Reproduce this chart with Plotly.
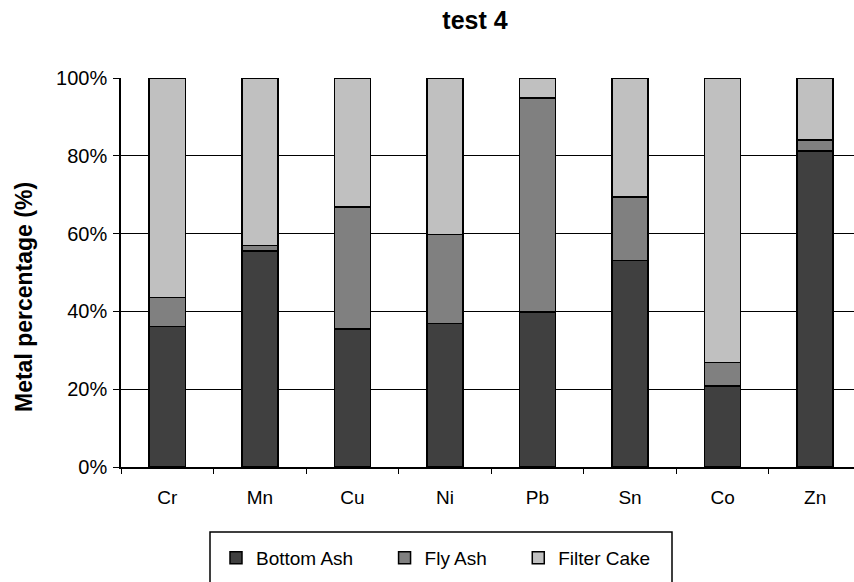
import plotly.graph_objects as go

# Metal distribution between the three residue streams (test 4)
metals = ["Cr", "Mn", "Cu", "Ni", "Pb", "Sn", "Co", "Zn"]
bottom_ash = [36.1, 55.5, 35.5, 36.9, 39.8, 53.1, 20.8, 81.2]
fly_ash = [7.5, 1.5, 31.4, 22.9, 55.1, 16.3, 6.1, 2.8]
filter_cake = [56.4, 43.0, 33.1, 40.2, 5.1, 30.6, 73.1, 16.0]
y_ticks = [0, 20, 40, 60, 80, 100]
y_tick_labels = ["0%", "20%", "40%", "60%", "80%", "100%"]

W, H = 854, 582
L, T, B = 121, 78, 467  # plot area edges in px
PW, PH = W - L, B - T


def px_x(px):
    return (px - L) / PW


def px_y(py):
    return (B - py) / PH


FONT = "Liberation Sans, Arial, sans-serif"
NB = "\u00a0"

series = [
    ("Bottom Ash" + NB * 5, bottom_ash, "#404040"),
    ("Fly Ash" + NB * 5, fly_ash, "#808080"),
    ("Filter Cake", filter_cake, "#c0c0c0"),
]

fig = go.Figure()
for name, vals, col in series:
    fig.add_trace(go.Bar(
        x=metals, y=vals, name=name, width=0.39,
        marker=dict(color=col, line=dict(color="#000000", width=1.5)),
    ))

fig.update_layout(
    width=W, height=H,
    margin=dict(l=L, r=0, t=T, b=H - B, pad=0),
    barmode="stack",
    paper_bgcolor="white", plot_bgcolor="white",
    font=dict(family=FONT, color="#000000"),
    title=dict(text="<b>test 4</b>", font=dict(size=25, family=FONT),
               xref="paper", x=px_x(475), xanchor="center",
               yref="container", y=1 - 20 / H, yanchor="middle"),
    showlegend=True,
    legend=dict(orientation="h", x=px_x(216), xanchor="left",
                y=px_y(558), yanchor="middle",
                font=dict(size=19, family=FONT),
                bgcolor="rgba(0,0,0,0)", borderwidth=0,
                itemwidth=30, traceorder="normal"),
    xaxis=dict(range=[-0.5, 7.42], showline=True, linecolor="#000000", linewidth=1.5,
               ticks="outside", tickson="boundaries", ticklen=5, tickcolor="#000000",
               tickwidth=1.2, tickfont=dict(size=19, family=FONT),
               ticklabelstandoff=12, showgrid=False, zeroline=False, fixedrange=True),
    yaxis=dict(range=[0, 100], tickmode="array", tickvals=y_ticks, ticktext=y_tick_labels,
               showline=True, linecolor="#000000", linewidth=1.5,
               ticks="outside", ticklen=6, tickcolor="#000000", tickwidth=1.2,
               tickfont=dict(size=20, family=FONT), ticklabelstandoff=2,
               showgrid=True, gridcolor="#000000", gridwidth=1.4,
               zeroline=False, fixedrange=True),
)

# vertical axis caption
fig.add_annotation(text="<b>Metal percentage (%)</b>", textangle=-90,
                   xref="paper", yref="paper", x=px_x(24), y=px_y(297),
                   xanchor="center", yanchor="middle", showarrow=False,
                   font=dict(size=23, family=FONT))

# legend frame
fig.add_shape(type="rect", xref="paper", yref="paper",
              x0=px_x(210), x1=px_x(672), y0=px_y(532), y1=px_y(610),
              line=dict(color="#000000", width=1.5), fillcolor="rgba(0,0,0,0)",
              layer="above")

fig.write_html("out.html")
